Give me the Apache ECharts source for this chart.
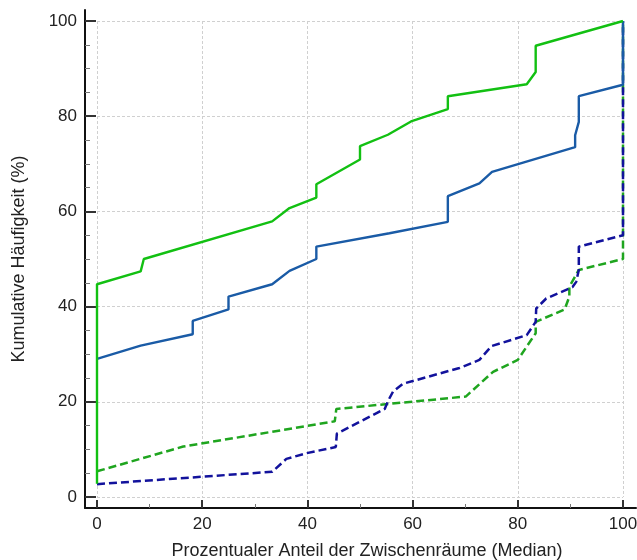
<!DOCTYPE html>
<html>
<head>
<meta charset="utf-8">
<script src="https://cdn.jsdelivr.net/npm/echarts@6/dist/echarts.min.js"></script>
<style>html,body{margin:0;padding:0;background:#fff}#c{width:637px;height:560px}</style>
</head>
<body>
<div id="c"></div>
<script>
const xTicks = [0, 20, 40, 60, 80, 100];
const yTicks = [0, 20, 40, 60, 80, 100];
const xMinorTicks = [10, 30, 50, 70, 90];
const yMinorTicks = [5, 10, 15, 25, 30, 35, 45, 50, 55, 65, 70, 75, 85, 90, 95];

const greenSolidX = [0, 0, 8.3, 8.9, 33.3, 36.6, 41.7, 41.7, 50, 50, 55.3, 59.7, 66.7, 66.7, 81.7, 83.4, 83.4, 100];
const greenSolidY = [2.8, 44.7, 47.4, 50.0, 57.9, 60.7, 62.9, 65.7, 70.9, 73.7, 76.1, 78.9, 81.5, 84.2, 86.7, 89.3, 94.8, 100];

const blueSolidX = [0, 8.3, 18.2, 18.2, 25, 25, 33.3, 36.6, 41.7, 41.7, 55.6, 66.7, 66.7, 72.7, 75.1, 90.9, 90.9, 91.6, 91.6, 100, 100];
const blueSolidY = [29.0, 31.8, 34.2, 37.0, 39.4, 42.1, 44.7, 47.5, 50.0, 52.6, 55.4, 57.8, 63.2, 65.9, 68.3, 73.5, 76.0, 78.8, 84.2, 86.6, 100];

const navyDashX = [0, 33.3, 36.0, 39.8, 45.4, 45.6, 54.7, 55.3, 56.3, 58.2, 68.9, 72.7, 75.0, 81.7, 83.4, 83.5, 85.4, 90.4, 91.1, 91.6, 91.6, 100, 100];
const navyDashY = [2.7, 5.3, 8.0, 9.2, 10.5, 13.3, 18.5, 20.1, 22.2, 23.8, 27.1, 28.8, 31.7, 34.0, 36.8, 39.6, 41.7, 44.1, 45.2, 47.7, 52.6, 55.0, 100];

const greenDashX = [0, 16.4, 45.2, 45.5, 70.1, 75.3, 80.0, 83.4, 83.4, 88.9, 89.8, 89.8, 91.6, 100, 100];
const greenDashY = [5.4, 10.6, 15.9, 18.5, 21.1, 26.3, 28.8, 34.4, 36.8, 39.4, 42.1, 44.2, 47.7, 50.0, 100];

function pairs(xs, ys) { return xs.map((x, i) => [x, ys[i]]); }

const chart = echarts.init(document.getElementById('c'), null, {renderer: 'canvas'});
const font = 'Liberation Sans, Arial, sans-serif';
const dash = [8, 4];
// outer frame axis extent (the axis lines sit slightly outside the data range)
const xOuterMin = -2.281, xOuterMax = 102.471;
const yOuterMin = -2.311, yOuterMax = 102.311;

chart.setOption({
  animation: false,
  backgroundColor: '#fff',
  grid: [
    {left: 97, right: 14, top: 21, bottom: 63, outerBoundsMode: 'none', containLabel: false},
    {left: 85, right: 1, top: 10, bottom: 52, outerBoundsMode: 'none', containLabel: false}
  ],
  xAxis: [
    {
      type: 'value', gridIndex: 0, min: 0, max: 100, interval: 20, position: 'bottom',
      axisLine: {show: false}, axisTick: {show: false}, axisLabel: {show: false},
      splitLine: {show: true, lineStyle: {color: '#d0d0d0', type: [3, 2], width: 1}}
    },
    {
      type: 'value', gridIndex: 1, min: xOuterMin, max: xOuterMax, position: 'bottom',
      name: 'Prozentualer Anteil der Zwischenräume (Median)',
      nameLocation: 'middle', nameGap: 34,
      nameTextStyle: {fontFamily: font, fontSize: 18, color: '#222', padding: [0, 0, 0, 13]},
      axisLine: {show: true, onZero: false, lineStyle: {color: '#111', width: 2}},
      axisTick: {show: true, inside: true, length: 8, customValues: xTicks, lineStyle: {color: '#333', width: 2}},
      axisLabel: {fontFamily: font, fontSize: 17, color: '#222', margin: 8, customValues: xTicks},
      splitLine: {show: false}
    },
    {
      type: 'value', gridIndex: 1, min: xOuterMin, max: xOuterMax, position: 'bottom', offset: 0,
      axisLine: {show: false, onZero: false},
      axisTick: {show: true, inside: true, length: 4, customValues: xMinorTicks, lineStyle: {color: '#777', width: 1}},
      axisLabel: {show: false}, splitLine: {show: false}
    }
  ],
  yAxis: [
    {
      type: 'value', gridIndex: 0, min: 0, max: 100, interval: 20, position: 'left',
      axisLine: {show: false}, axisTick: {show: false}, axisLabel: {show: false},
      splitLine: {show: true, lineStyle: {color: '#d0d0d0', type: [3, 2], width: 1}}
    },
    {
      type: 'value', gridIndex: 1, min: yOuterMin, max: yOuterMax, position: 'left',
      name: 'Kumulative Häufigkeit (%)',
      nameLocation: 'middle', nameGap: 57,
      nameTextStyle: {fontFamily: font, fontSize: 18, color: '#222'},
      axisLine: {show: true, onZero: false, lineStyle: {color: '#111', width: 2}},
      axisTick: {show: true, inside: true, length: 11, customValues: yTicks, lineStyle: {color: '#333', width: 2}},
      axisLabel: {fontFamily: font, fontSize: 17, color: '#222', margin: 8, customValues: yTicks},
      splitLine: {show: false}
    },
    {
      type: 'value', gridIndex: 1, min: yOuterMin, max: yOuterMax, position: 'left', offset: 0,
      axisLine: {show: false, onZero: false},
      axisTick: {show: true, inside: true, length: 5, customValues: yMinorTicks, lineStyle: {color: '#777', width: 1}},
      axisLabel: {show: false}, splitLine: {show: false}
    }
  ],
  series: [
    {type: 'line', name: 'greenDash', xAxisIndex: 0, yAxisIndex: 0, data: pairs(greenDashX, greenDashY), symbol: 'none',
      lineStyle: {color: '#1fa51f', width: 2.5, type: dash}},
    {type: 'line', name: 'navyDash', xAxisIndex: 0, yAxisIndex: 0, data: pairs(navyDashX, navyDashY), symbol: 'none',
      lineStyle: {color: '#12129c', width: 2.5, type: dash}},
    {type: 'line', name: 'blueSolid', xAxisIndex: 0, yAxisIndex: 0, data: pairs(blueSolidX, blueSolidY), symbol: 'none',
      lineStyle: {color: '#1a5ba6', width: 2.4}},
    {type: 'line', name: 'greenSolid', xAxisIndex: 0, yAxisIndex: 0, data: pairs(greenSolidX, greenSolidY), symbol: 'none',
      lineStyle: {color: '#12c012', width: 2.4}}
  ]
});
</script>
</body>
</html>
